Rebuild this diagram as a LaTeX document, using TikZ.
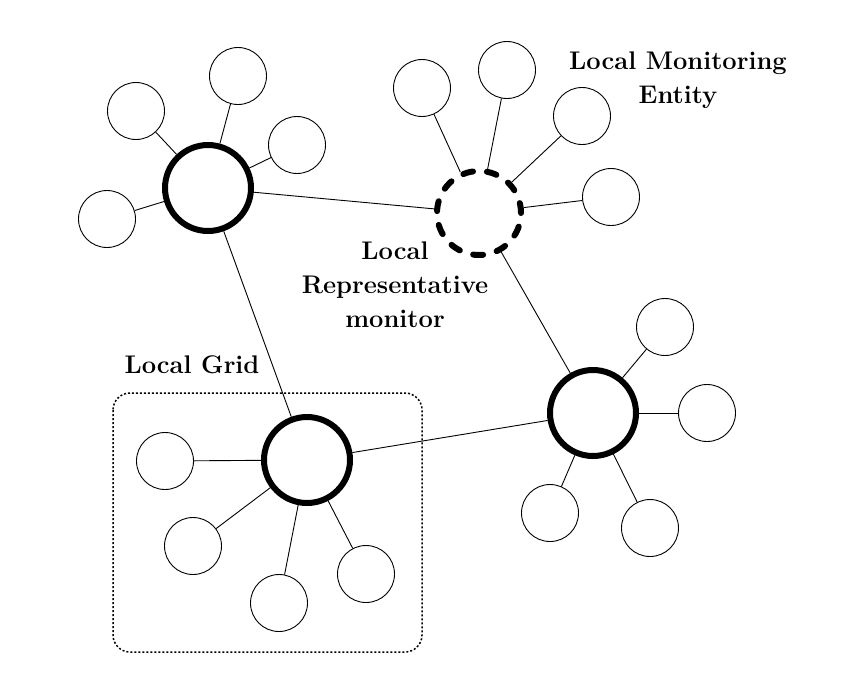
\documentclass[tikz,border=0pt]{standalone}
\usetikzlibrary{calc}
\tikzset{
  hub/.style={circle, draw, line width=6pt, minimum size=86pt, inner sep=0pt},
  rephub/.style={circle, draw, line width=6pt, minimum size=84pt, inner sep=0pt, line cap=round, dash pattern=on 10pt off 14pt},
  leaf/.style={circle, draw, line width=0.9pt, minimum size=57pt, inner sep=0pt},
  link/.style={line width=0.9pt},
  lbl/.style={font=\fontsize{25.5}{34}\selectfont\bfseries, align=center, anchor=base}
}
\begin{document}
\begin{tikzpicture}[x=1pt, y=-1pt]
		%%%%% START %%%%%
		\useasboundingbox (0, 0) rectangle (850, 681);
		
		\draw[line width=1.5pt, dash pattern=on 2pt off 2pt, rounded corners=17pt] (113, 393) rectangle (422, 652);
		
		\node[hub] (hubA) at (208, 188) {};
		\node[rephub] (hubB) at (479, 213) {};
		\node[hub] (hubC) at (593, 413) {};
		\node[hub] (hubD) at (307, 460) {};
		
		\node[leaf] (a1) at (136, 111) {};
		\node[leaf] (a2) at (238, 76) {};
		\node[leaf] (a3) at (297, 145) {};
		\node[leaf] (a4) at (107, 219) {};
		
		\node[leaf] (b1) at (422, 88) {};
		\node[leaf] (b2) at (507, 70) {};
		\node[leaf] (b3) at (582, 116) {};
		\node[leaf] (b4) at (611, 197) {};
		
		\node[leaf] (c1) at (665, 327) {};
		\node[leaf] (c2) at (707, 413) {};
		\node[leaf] (c3) at (650, 528) {};
		\node[leaf] (c4) at (550, 513) {};
		
		\node[leaf] (d1) at (165, 461) {};
		\node[leaf] (d2) at (193, 546) {};
		\node[leaf] (d3) at (279, 603) {};
		\node[leaf] (d4) at (366, 574) {};
		
		\foreach \h/\l in {A/a, B/b, C/c, D/d}
			\foreach \i in {1,...,4}
				\draw[link] (hub\h) -- (\l\i);
		
		\draw[link] (hubA) -- (hubB);
		\draw[link] (hubA) -- (hubD);
		\draw[link] (hubB) -- (hubC);
		\draw[link] (hubD) -- (hubC);
		
		\node[lbl] (lme) at (678, 103) {Local Monitoring\\Entity};
		\node[lbl] (lrm) at (395, 327) {Local\\Representative\\monitor};
		\node[lbl] (lg) at (192, 373) {Local Grid};
		%%%%% END %%%%%
	\end{tikzpicture}
\end{document}
